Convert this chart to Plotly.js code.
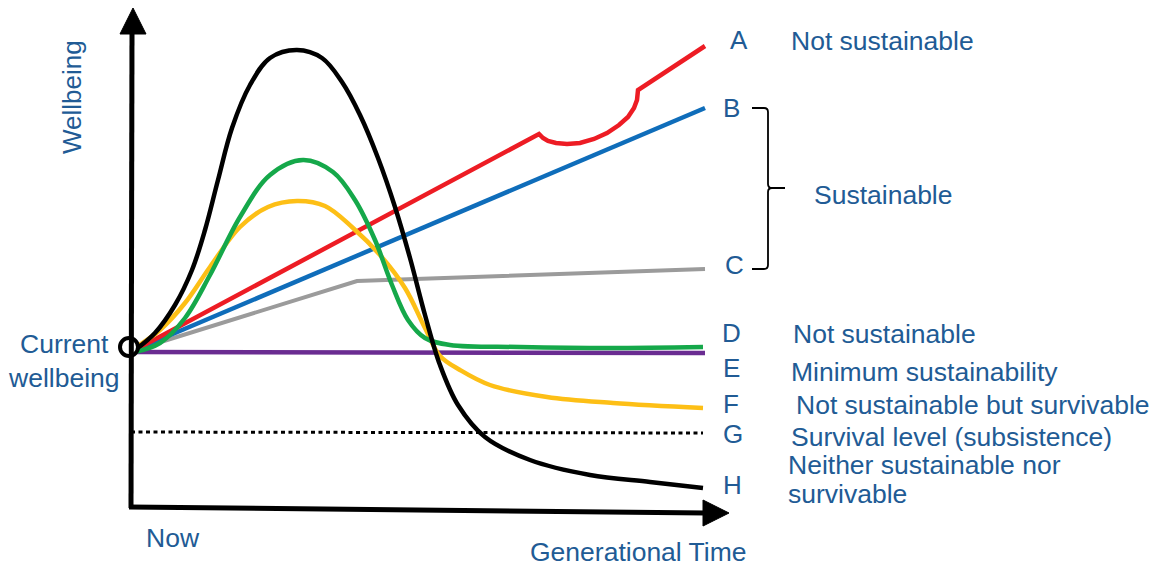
<!DOCTYPE html>
<html>
<head>
<meta charset="utf-8">
<script src="https://cdn.plot.ly/plotly-3.0.1.min.js"></script>
<style>html,body{margin:0;padding:0;background:#fff;}#chart{width:1156px;height:567px;}</style>
</head>
<body>
<div id="chart"></div>
<script>
// Generational time (x) and wellbeing (y) values
const timeA = [135, 539, 543, 548, 556, 567, 580, 594, 607, 619, 628, 634, 637, 638, 705];
const wellA = [217, 433, 429, 426, 424, 423, 424, 428, 434, 442, 450, 459, 467, 477, 521];

const timeB = [135, 705];
const wellB = [217, 459];

const timeC = [135, 357, 705];
const wellC = [217, 286, 298];

const timeD = [135, 160, 185, 210, 240, 270, 303, 333, 355, 375, 392, 408, 425, 450, 520, 610, 703];
const wellD = [215, 224, 249, 292, 350, 392, 407, 395, 367, 327, 282, 247, 229, 222, 220, 219, 220];

const timeE = [135, 705];
const wellE = [215, 214];

const timeF = [135, 160, 185, 210, 240, 268, 297, 325, 353, 380, 405, 425, 440, 460, 490, 547, 613, 703];
const wellF = [219, 237, 264, 300, 340, 360, 366, 361, 339, 312, 279, 239, 211, 197, 182, 170, 164, 159];

const timeG = [131, 703];
const wellG = [135, 134];

const timeH = [135, 155, 175, 192, 205, 218, 232, 250, 270, 297, 322, 342, 360, 378, 395, 410, 425, 440, 458, 485, 530, 590, 650, 703];
const wellH = [217, 234, 262, 297, 337, 387, 439, 482, 509, 517, 509, 485, 452, 409, 360, 309, 252, 202, 162, 130, 107, 92, 85, 79];

const currentTime = [129];
const currentWell = [220];

// Labels
const letters = ['A', 'B', 'C', 'D', 'E', 'F', 'G', 'H'];
const letterX = [739, 731, 734, 731, 731, 731, 733, 732];
const letterY = [527, 459, 302, 234, 199, 163, 133, 82];

const descTexts = ['Not sustainable', 'Sustainable', 'Not sustainable', 'Minimum sustainability',
  'Not sustainable but survivable', 'Survival level (subsistence)', 'Neither sustainable nor', 'survivable'];
const descX = [789, 812, 791, 789, 794, 789, 786, 786];
const descY = [526, 372, 233, 195, 162, 130, 102, 73];

const seriesColors = {
  A: '#ed1c24', B: '#0f6dba', C: '#9b9b9b', D: '#15a84a',
  E: '#6a2c91', F: '#fdbf16', G: '#000000', H: '#000000'
};

const textColor = '#215b95';
const fontFam = 'Liberation Sans, Arial, sans-serif';
const textSize = 26.5;

function line(x, y, color, width, opts) {
  return {
    x: x, y: y, type: 'scatter', mode: 'lines', hoverinfo: 'skip', showlegend: false,
    line: Object.assign({color: color, width: width}, opts || {})
  };
}

const traces = [
  line(timeG, wellG, seriesColors.G, 3, {dash: '4px,3.5px'}),
  line(timeE, wellE, seriesColors.E, 4.5),
  line(timeC, wellC, seriesColors.C, 4),
  line(timeB, wellB, seriesColors.B, 4.5),
  line(timeA, wellA, seriesColors.A, 4.5),
  line(timeF, wellF, seriesColors.F, 4.5, {shape: 'spline', smoothing: 1}),
  line(timeD, wellD, seriesColors.D, 4.5, {shape: 'spline', smoothing: 1}),
  line(timeH, wellH, seriesColors.H, 4.5, {shape: 'spline', smoothing: 1}),
  {
    x: currentTime, y: currentWell, type: 'scatter', mode: 'markers', hoverinfo: 'skip', showlegend: false,
    marker: {size: 18, color: '#ffffff', line: {color: '#000000', width: 4}}
  }
];

const annotations = [];
letters.forEach((t, i) => annotations.push({
  x: letterX[i], y: letterY[i], xref: 'x', yref: 'y', text: t, showarrow: false,
  xanchor: 'center', yanchor: 'middle', font: {family: fontFam, size: 26, color: textColor}
}));
descTexts.forEach((t, i) => annotations.push({
  x: descX[i], y: descY[i], xref: 'x', yref: 'y', text: t, showarrow: false,
  xanchor: 'left', yanchor: 'middle', font: {family: fontFam, size: textSize, color: textColor}
}));
annotations.push(
  {x: 64, y: 206, xref: 'x', yref: 'y', text: 'Current<br>wellbeing', showarrow: false, align: 'center',
   xanchor: 'center', yanchor: 'middle', font: {family: fontFam, size: textSize, color: textColor}},
  {x: 72, y: 470, xref: 'x', yref: 'y', text: 'Wellbeing', showarrow: false, textangle: -90,
   xanchor: 'center', yanchor: 'middle', font: {family: fontFam, size: 26, color: textColor}},
  {x: 173, y: 29, xref: 'x', yref: 'y', text: 'Now', showarrow: false,
   xanchor: 'center', yanchor: 'middle', font: {family: fontFam, size: textSize, color: textColor}},
  {x: 638, y: 15, xref: 'x', yref: 'y', text: 'Generational Time', showarrow: false,
   xanchor: 'center', yanchor: 'middle', font: {family: fontFam, size: textSize, color: textColor}}
);

const shapes = [
  // vertical axis
  {type: 'line', xref: 'x', yref: 'y', x0: 131, y0: 59, x1: 132, y1: 536, line: {color: '#000', width: 5}},
  {type: 'path', xref: 'x', yref: 'y', path: 'M133,559 L120,533 L146,533 Z', fillcolor: '#000', line: {color: '#000', width: 1}},
  // horizontal axis
  {type: 'line', xref: 'x', yref: 'y', x0: 129, y0: 60, x1: 706, y1: 54, line: {color: '#000', width: 5}},
  {type: 'path', xref: 'x', yref: 'y', path: 'M729,54 L703,67 L703,41 Z', fillcolor: '#000', line: {color: '#000', width: 1}},
  // brace
  {type: 'path', xref: 'x', yref: 'y',
   path: 'M752,459 L764,459 Q768,459 768,455 L768,383 Q768,379 772,379 L785,379 M772,379 Q768,379 768,375 L768,302 Q768,298 764,298 L752,298',
   line: {color: '#000', width: 1.8}}
];

const layout = {
  width: 1156, height: 567,
  margin: {l: 0, r: 0, t: 0, b: 0},
  paper_bgcolor: '#ffffff', plot_bgcolor: '#ffffff',
  xaxis: {range: [0, 1156], visible: false, fixedrange: true},
  yaxis: {range: [0, 567], visible: false, fixedrange: true},
  showlegend: false,
  annotations: annotations,
  shapes: shapes
};

Plotly.newPlot('chart', traces, layout, {staticPlot: true, displayModeBar: false});
</script>
</body>
</html>
